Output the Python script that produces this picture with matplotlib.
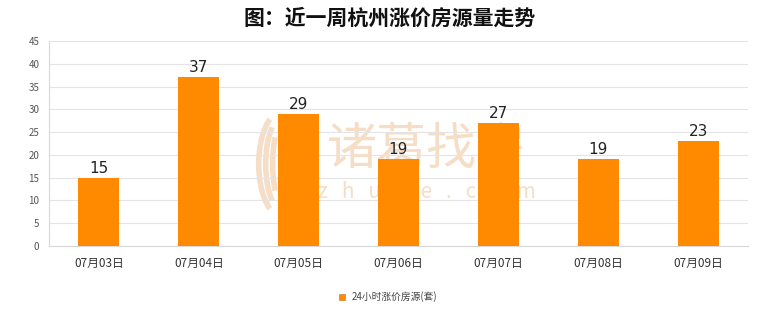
import matplotlib
matplotlib.use("Agg")
import matplotlib.pyplot as plt
from matplotlib.patches import Rectangle, Arc

plt.rcParams['font.family'] = ['Noto Sans CJK SC', 'DejaVu Sans']

categories = ["07月03日", "07月04日", "07月05日", "07月06日", "07月07日", "07月08日", "07月09日"]
values = [15, 37, 29, 19, 27, 19, 23]
series_name = "24小时涨价房源(套)"
title = "图：近一周杭州涨价房源量走势"
y_ticks = [0, 5, 10, 15, 20, 25, 30, 35, 40, 45]

bar_color = "#FF8A00"
mark_color = "#f6ddc6"

fig = plt.figure(figsize=(7.8, 3.28), dpi=100)
ax = fig.add_axes([49 / 780, 1 - 246 / 328, 699 / 780, 205 / 328])

x = list(range(len(categories)))
ax.bar(x, values, width=0.41, color=bar_color, zorder=3)
for xi, v in zip(x, values):
    ax.text(xi, v + 0.45, str(v), ha="center", va="bottom", fontsize=11,
            family=["DejaVu Sans"], color="#222222", zorder=4)

ax.set_xlim(-0.5, len(categories) - 0.5)
ax.set_ylim(0, 45)
ax.set_yticks(y_ticks)
ax.set_yticklabels([str(t) for t in y_ticks], fontsize=7, color="#555555")
ax.set_xticks(x)
ax.set_xticklabels(categories, fontsize=8.5, color="#333333")
ax.tick_params(axis="y", length=0, pad=7)
ax.tick_params(axis="x", length=0, pad=8)
ax.grid(axis="y", color="#e4e4e4", linewidth=0.8, zorder=0)
for side in ["top", "right"]:
    ax.spines[side].set_visible(False)
for side in ["left", "bottom"]:
    ax.spines[side].set_color("#d8d8d8")
    ax.spines[side].set_linewidth(0.8)

# faint brand watermark behind the bars
ax.text(0.541, 0.47, "诸葛找房", transform=ax.transAxes, ha="center", va="center",
        fontsize=36, color=mark_color, zorder=1)
ax.text(0.541, 0.262, "z   h   u   g   e   .   c   o   m", transform=ax.transAxes,
        ha="center", va="center", fontsize=15, color=mark_color, zorder=1)
for w, h in [(0.030, 0.40), (0.050, 0.46), (0.070, 0.52)]:
    ax.add_patch(Arc((0.335, 0.40), w, h, theta1=95, theta2=265,
                     transform=ax.transAxes, color=mark_color, linewidth=4,
                     zorder=1))
ax.add_patch(Arc((0.318, 0.40), 0.070, 0.52, theta1=-85, theta2=60,
                 transform=ax.transAxes, color=mark_color, linewidth=4,
                 zorder=1))

fig.text(0.5, 1 - 18 / 328, title, ha="center", va="center", fontsize=15,
         fontweight="bold", color="#111111")

# legend
fig.patches.append(Rectangle((339 / 780, 1 - 300 / 328), 6 / 780, 6 / 328,
                             transform=fig.transFigure, facecolor=bar_color,
                             edgecolor="#c07020", linewidth=0.4))
fig.text(352 / 780, 1 - 297 / 328, series_name, ha="left", va="center",
         fontsize=7, color="#444444")

fig.savefig("out.png", dpi=100, facecolor="white")
